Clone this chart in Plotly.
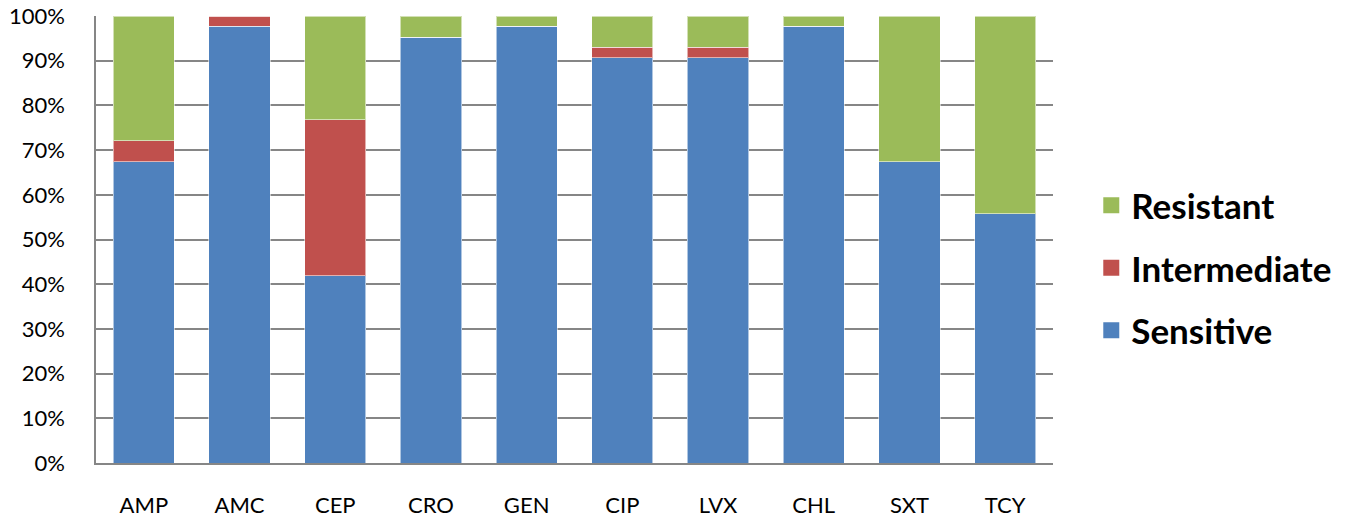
import plotly.graph_objects as go

# Antimicrobial susceptibility by agent (percent of isolates)
agents = ["AMP", "AMC", "CEP", "CRO", "GEN", "CIP", "LVX", "CHL", "SXT", "TCY"]
sensitive = [67.4, 97.7, 41.9, 95.3, 97.7, 90.7, 90.7, 97.7, 67.4, 55.8]
intermediate = [4.7, 2.3, 34.9, 0.0, 0.0, 2.3, 2.3, 0.0, 0.0, 0.0]
resistant = [27.9, 0.0, 23.2, 4.7, 2.3, 7.0, 7.0, 2.3, 32.6, 44.2]
y_ticks = list(range(0, 101, 10))

series = [
    ("Sensitive", sensitive, "#4F81BD", 3),
    ("Intermediate", intermediate, "#C0504D", 2),
    ("Resistant", resistant, "#9BBB59", 1),
]

fig = go.Figure()
for name, vals, color, rank in series:
    fig.add_trace(go.Bar(
        x=agents, y=vals, name=name, showlegend=False,
        marker=dict(color=color, line=dict(color="rgba(255,255,255,0.55)", width=1)),
    ))
    # legend key with a larger square swatch
    fig.add_trace(go.Scatter(
        x=[None], y=[None], mode="markers", name=name, legendgroup=name,
        legendrank=rank, hoverinfo="skip",
        marker=dict(symbol="square", size=21, color=color),
    ))

font_family = "Lato, 'Open Sans', sans-serif"
fig.update_layout(
    barmode="stack",
    bargap=0.36,
    width=1351, height=519,
    margin=dict(l=96, r=298, t=16, b=56, autoexpand=False),
    paper_bgcolor="white", plot_bgcolor="white",
    font=dict(family=font_family, color="black", size=20),
    legend=dict(
        traceorder="grouped",
        x=1.04, y=0.436, xanchor="left", yanchor="middle",
        font=dict(family=font_family, size=35, color="black", weight="bold"),
        tracegroupgap=14, itemwidth=30,
        bgcolor="rgba(0,0,0,0)",
    ),
    xaxis=dict(
        showline=True, linecolor="#868686", linewidth=1.5, automargin=False,
        ticks="", tickfont=dict(size=22), ticklabelstandoff=22,
    ),
    yaxis=dict(
        range=[0, 100], tickvals=y_ticks, ticktext=[f"{v}%" for v in y_ticks],
        showgrid=True, gridcolor="#868686", gridwidth=1.5, automargin=False,
        showline=True, linecolor="#868686", linewidth=1.5,
        zeroline=False, ticks="", tickfont=dict(size=22), ticklabelstandoff=25,
    ),
)

fig.write_html("out.html")
